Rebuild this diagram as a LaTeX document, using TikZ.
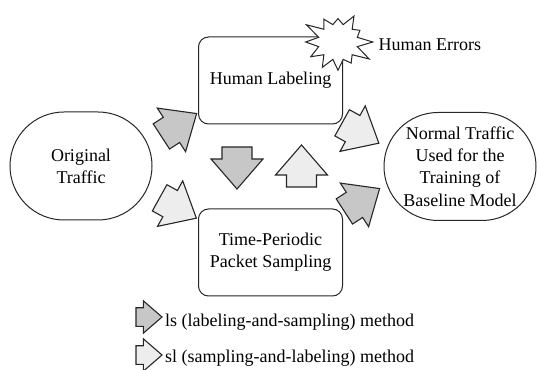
\documentclass[tikz,border=0pt]{standalone}
\usepackage{fontspec}
\setmainfont{Liberation Serif}
\usetikzlibrary{shapes.misc,shapes.symbols}
\tikzset{
  stadium/.style={draw=black!85,line width=1pt,rounded rectangle,minimum width=142pt,minimum height=108pt,align=center,inner sep=0pt},
  stepbox/.style={draw=black!85,line width=1pt,rounded corners=10pt,minimum width=144pt,minimum height=87pt,align=center},
  arrowpath/.style={draw=black!85,line width=1.1pt,line join=miter},
  blockarrow/.pic={\filldraw[arrowpath,fill=#1] (-21,-15) -- (-9,-15) -- (-9,-26) -- (21,0) -- (-9,26) -- (-9,15) -- (-21,15) -- cycle;}
}
\colorlet{lscol}{black!22}
\colorlet{slcol}{black!7}
\begin{document}
\begin{tikzpicture}[x=1pt,y=1pt,font=\fontsize{18}{22.3}\selectfont]
    \useasboundingbox (0,0) rectangle (537,369);

    % boxes
    \node[stadium] (orig) at (81,203) {Original\\Traffic};
    \node[stadium,minimum width=152pt] (normal) at (460,202.5) {Normal Traffic\\Used for the\\Training of\\Baseline Model};
    \node[stepbox] (label) at (270.5,288.5) {Human Labeling};
    \node[stepbox] (sample) at (270.5,116.5) {Time-Periodic\\Packet Sampling};

    % human errors
    \node[starburst,starburst points=12,starburst point height=17pt,random starburst=3,
          draw=black!85,line width=1pt,fill=white,minimum width=74pt,minimum height=70pt] (burst) at (338,327) {};
    \node[anchor=west] (errors) at (375,324) {Human Errors};

    % block arrows
    \pic (lsA) [rotate=33] at (179,244) {blockarrow=lscol};
    \pic (slA) [rotate=-29] at (178,161) {blockarrow=slcol};
    \pic (slB) [rotate=-29] at (360.5,236) {blockarrow=slcol};
    \pic (lsB) [rotate=33] at (362,169) {blockarrow=lscol};
    \pic (lsC) [rotate=-90] at (237,201) {blockarrow=lscol};
    \pic (slC) [rotate=90] at (301.5,203) {blockarrow=slcol};

    % legend
    \pic (lsKey) [scale=.62] at (149,52) {blockarrow=lscol};
    \pic (slKey) [scale=.62] at (149,14) {blockarrow=slcol};
    \node[anchor=west,inner sep=0pt] (lsText) at (165,47) {ls (labeling-and-sampling) method};
    \node[anchor=west,inner sep=0pt] (slText) at (165,11) {sl (sampling-and-labeling) method};
\end{tikzpicture}
\end{document}
